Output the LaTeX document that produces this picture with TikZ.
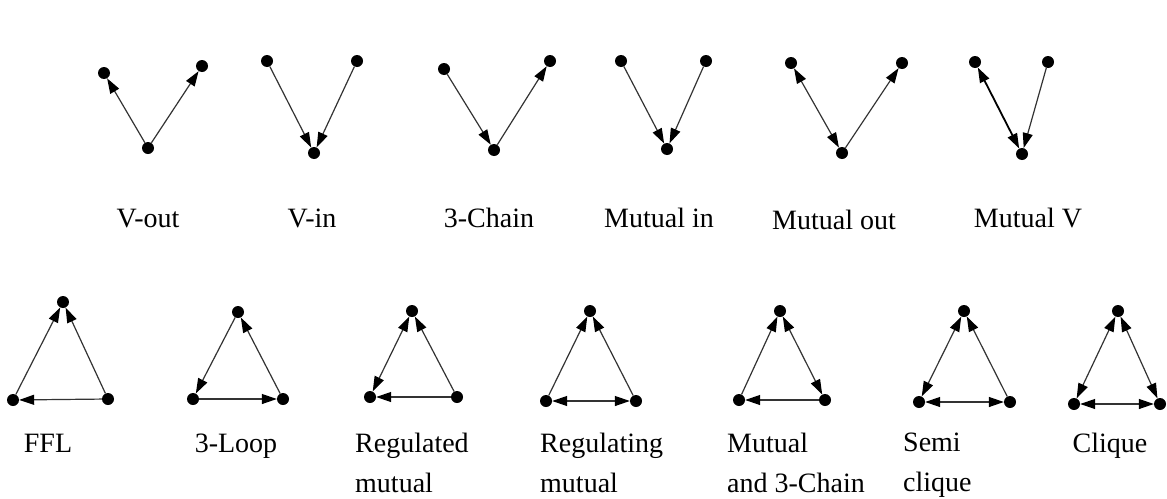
\documentclass[tikz,border=0pt]{standalone}
\usepackage{fontspec}
\setmainfont{Liberation Serif}
\usetikzlibrary{arrows.meta}
\tikzset{
  dot/.style={circle,fill=black,inner sep=0pt,minimum size=12pt},
  tip/.tip={Triangle[length=15pt,width=10pt,color=black]},
  edge/.style={draw=black!80,line width=1.2pt,-tip},
  mutual/.style={draw=black!80,line width=1.2pt,tip-tip},
  lbl/.style={inner sep=0pt,font=\fontsize{28}{40}\selectfont,anchor=base},
  lbl2/.style={inner sep=0pt,font=\fontsize{28}{40}\selectfont,anchor=north west,align=left}
}
\begin{document}
\begin{tikzpicture}[x=1pt,y=-1pt]
\useasboundingbox (0,0) rectangle (1167,498);
% V-out
\node[dot] (a1) at (104,73) {};
\node[dot] (a2) at (202,66) {};
\node[dot] (a3) at (148,148) {};
\draw[edge] (a3) -- (a1);
\draw[edge] (a3) -- (a2);
\node[lbl] (la) at (148,227) {V-out};
% V-in
\node[dot] (b1) at (267,61) {};
\node[dot] (b2) at (357,61) {};
\node[dot] (b3) at (314,153) {};
\draw[edge] (b1) -- (b3);
\draw[edge] (b2) -- (b3);
\node[lbl] (lb) at (312,227) {V-in};
% 3-Chain
\node[dot] (c1) at (444,69) {};
\node[dot] (c2) at (550,61) {};
\node[dot] (c3) at (494,150) {};
\draw[edge] (c1) -- (c3);
\draw[edge] (c3) -- (c2);
\node[lbl] (lc) at (489,227) {3-Chain};
% Mutual in
\node[dot] (d1) at (621,61) {};
\node[dot] (d2) at (706,61) {};
\node[dot] (d3) at (667,149) {};
\draw[edge] (d1) -- (d3);
\draw[edge] (d2) -- (d3);
\node[lbl] (ld) at (659,227) {Mutual in};
% Mutual out
\node[dot] (e1) at (791,63) {};
\node[dot] (e2) at (902,63) {};
\node[dot] (e3) at (842,153) {};
\draw[mutual] (e1) -- (e3);
\draw[edge] (e3) -- (e2);
\node[lbl] (le) at (834,229) {Mutual out};
% Mutual V
\node[dot] (f1) at (975,62) {};
\node[dot] (f2) at (1048,62) {};
\node[dot] (f3) at (1022,154) {};
\draw[mutual,draw=black,line width=1.8pt] (f1) -- (f3);
\draw[edge] (f2) -- (f3);
\node[lbl] (lf) at (1028,227) {Mutual V};
% FFL
\node[dot] (g1) at (63,302) {};
\node[dot] (g2) at (13,400) {};
\node[dot] (g3) at (108,399) {};
\draw[edge] (g2) -- (g1);
\draw[edge] (g3) -- (g1);
\draw[edge] (g3) -- (g2);
\node[lbl] (lg) at (48,452) {FFL};
% 3-Loop
\node[dot] (h1) at (238,312) {};
\node[dot] (h2) at (193,399) {};
\node[dot] (h3) at (283,399) {};
\draw[edge] (h1) -- (h2);
\draw[edge] (h2) -- (h3);
\draw[edge] (h3) -- (h1);
\node[lbl] (lh) at (236,452) {3-Loop};
% Regulated mutual
\node[dot] (i1) at (412,311) {};
\node[dot] (i2) at (370,397) {};
\node[dot] (i3) at (457,397) {};
\draw[mutual] (i2) -- (i1);
\draw[edge] (i3) -- (i1);
\draw[edge] (i3) -- (i2);
\node[lbl2] (li) at (355,433) {Regulated\\mutual};
% Regulating mutual
\node[dot] (j1) at (590,311) {};
\node[dot] (j2) at (546,401) {};
\node[dot] (j3) at (636,401) {};
\draw[edge] (j2) -- (j1);
\draw[edge] (j3) -- (j1);
\draw[mutual] (j2) -- (j3);
\node[lbl2] (lj) at (540,433) {Regulating\\mutual};
% Mutual and 3-Chain
\node[dot] (k1) at (780,311) {};
\node[dot] (k2) at (739,400) {};
\node[dot] (k3) at (825,400) {};
\draw[edge] (k2) -- (k1);
\draw[mutual] (k1) -- (k3);
\draw[edge] (k3) -- (k2);
\node[lbl2] (lk) at (727,433) {Mutual\\and 3-Chain};
% Semi clique
\node[dot] (m1) at (964,311) {};
\node[dot] (m2) at (919,402) {};
\node[dot] (m3) at (1010,402) {};
\draw[mutual] (m2) -- (m1);
\draw[edge] (m3) -- (m1);
\draw[mutual] (m2) -- (m3);
\node[lbl2] (lm) at (903,433) {Semi\\clique};
% Clique
\node[dot] (n1) at (1118,311) {};
\node[dot] (n2) at (1074,404) {};
\node[dot] (n3) at (1160,404) {};
\draw[mutual] (n2) -- (n1);
\draw[mutual] (n1) -- (n3);
\draw[mutual] (n2) -- (n3);
\node[lbl] (ln) at (1110,452) {Clique};
\end{tikzpicture}
\end{document}
